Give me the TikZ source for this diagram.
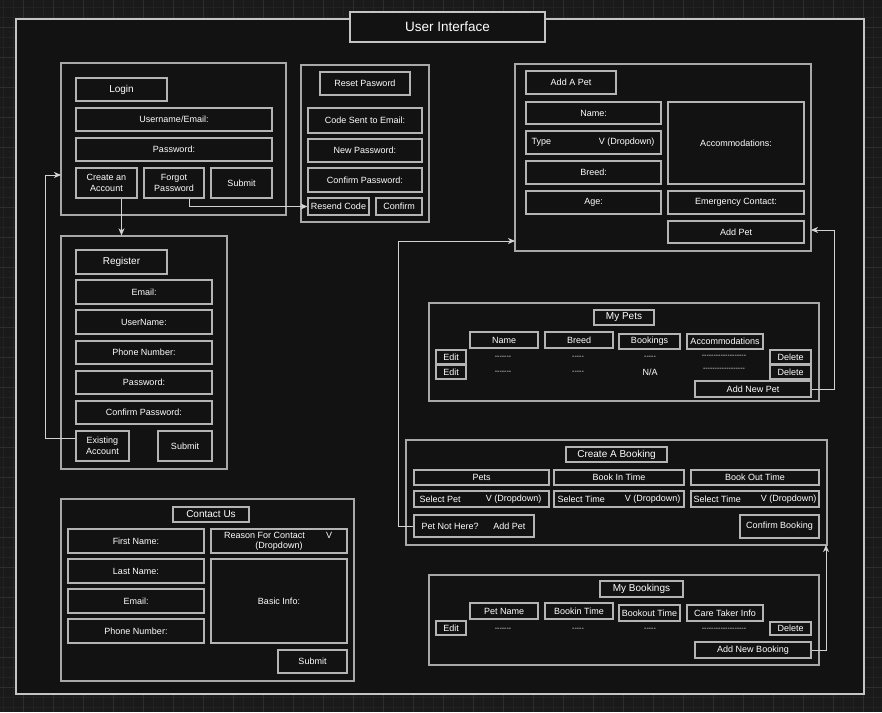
\documentclass[tikz,border=0pt]{standalone}
\usepackage{fontspec}
\setmainfont{Liberation Sans}
\usetikzlibrary{arrows.meta}
\definecolor{bgin}{HTML}{121212}
\definecolor{bgout}{HTML}{1A1A1A}
\definecolor{gmin}{HTML}{222222}
\definecolor{gmaj}{HTML}{2E2E2E}
\definecolor{edgecol}{HTML}{B4B4B4}
\definecolor{panelcol}{HTML}{A8A8A8}
\definecolor{framecol}{HTML}{C4C4C4}
\definecolor{conncol}{HTML}{D2D2D2}
\newcommand\uibox[7][]{%
  \pgfmathsetmacro\uiW{#5-#3}\pgfmathsetmacro\uiH{#6-#4}%
  \node[box,#1,minimum width=\uiW pt,minimum height=\uiH pt] (#2) at ({(#3+#5)/2},{(#4+#6)/2}) {#7};}
\newcommand\hy[1]{\foreach\uk in {1,...,#1}{-{}}}
\tikzset{
  box/.style={draw=edgecol, line width=1.2pt, fill=bgin, text=white,
    font=\fontsize{9}{10.5}\selectfont, inner sep=1pt, align=center},
  panel/.style={draw=panelcol, line width=1.3pt},
  ttl/.style={font=\fontsize{10}{12}\selectfont},
  txt/.style={text=white, font=\fontsize{9}{10.5}\selectfont, inner sep=0pt},
  dashtxt/.style={text=white, font=\fontsize{7}{8}\selectfont, inner sep=0pt},
  conn/.style={draw=conncol, line width=0.9pt, -{Stealth[length=7pt,width=6pt,inset=2pt]}},
}
\begin{document}
\begin{tikzpicture}[x=1pt,y=-1pt]
\useasboundingbox (0,0) rectangle (882,712);
% outer background with grid
\fill[bgout] (0,0) rectangle (882,712);
\foreach \x in {3,13,...,882} \draw[gmin,line width=0.6pt] (\x,0) -- (\x,712);
\foreach \y in {7,17,...,712} \draw[gmin,line width=0.6pt] (0,\y) -- (882,\y);
\foreach \x in {23,53,...,882} \draw[gmaj,line width=0.8pt] (\x,0) -- (\x,712);
\foreach \y in {27,57,...,712} \draw[gmaj,line width=0.8pt] (0,\y) -- (882,\y);
% main frame
\draw[framecol, line width=1.5pt, fill=bgin] (16,19) rectangle (864,694);
\uibox[font=\fontsize{13.5}{16}\selectfont, draw=framecol, line width=1.3pt]{title}{350}{12}{545}{42}{User Interface}

% ---------- Login ----------
\uibox[panel]{loginp}{61}{63}{286}{215}{}
\uibox[ttl]{login}{76}{78}{167}{101}{Login}
\uibox{user}{76}{108}{272}{131}{Username/Email:}
\uibox{pw}{76}{138}{272}{161}{Password:}
\uibox{ca}{76}{168}{137}{198}{Create an\\Account}
\uibox{fp}{144}{168}{204}{198}{Forgot\\Password}
\uibox{lsub}{211}{168}{272}{198}{Submit}

% ---------- Reset ----------
\uibox[panel]{resetp}{301}{65}{429}{222}{}
\uibox{rp}{320}{72}{410}{95}{Reset Pasword}
\uibox{cse}{308}{108}{422}{133}{Code Sent to Email:}
\uibox{np}{308}{139}{422}{162}{New Password:}
\uibox{cp}{308}{168}{422}{192}{Confirm Password:}
\uibox{rc}{308}{198}{369}{215}{Resend Code}
\uibox{conf}{376}{198}{422}{215}{Confirm}

% ---------- Register ----------
\uibox[panel]{regp}{61}{236}{227}{469}{}
\uibox[ttl]{reg}{76}{250}{167}{274}{Register}
\uibox{remail}{76}{280}{212}{304}{Email:}
\uibox{runame}{76}{310}{212}{334}{UserName:}
\uibox{rphone}{76}{341}{212}{364}{Phone Number:}
\uibox{rpw}{76}{371}{212}{394}{Password:}
\uibox{rcpw}{76}{401}{212}{424}{Confirm Password:}
\uibox{ea}{76}{431}{129}{461}{Existing\\Account}
\uibox{rsub}{158}{431}{212}{461}{Submit}

% ---------- Add A Pet ----------
\uibox[panel]{addp}{515}{64}{811}{251}{}
\uibox{aap}{526}{71}{616}{94}{Add A Pet}
\uibox{pname}{526}{102}{661}{124}{Name:}
\uibox{ptype}{526}{131}{661}{154}{}
\node[txt,anchor=west] (ptypeL) at ([xshift=6pt]ptype.west) {Type};
\node[txt,anchor=east] (ptypeR) at ([xshift=-7pt]ptype.east) {V (Dropdown)};
\uibox{pbreed}{526}{161}{661}{184}{Breed:}
\uibox{page}{526}{191}{661}{214}{Age:}
\uibox{pacc}{668}{102}{804}{184}{Accommodations:}
\uibox{pemer}{668}{191}{804}{214}{Emergency Contact:}
\uibox{paddbtn}{668}{221}{804}{243}{Add Pet}

% ---------- My Pets ----------
\uibox[panel]{mypp}{429}{303}{819}{401}{}
\uibox[ttl]{mypets}{594}{310}{654}{325}{My Pets}
\uibox{hname}{470}{332}{538}{348}{Name}
\uibox{hbreed}{545}{332}{613}{348}{Breed}
\uibox{hbook}{619}{334}{680}{349}{Bookings}
\uibox{hacc}{687}{334}{763}{349}{Accommodations}
\uibox{edit1}{436}{350}{466}{364}{Edit}
\uibox{edit2}{436}{365}{466}{379}{Edit}
\uibox{del1}{770}{350}{811}{364}{Delete}
\uibox{del2}{770}{365}{811}{379}{Delete}
\uibox{anp}{695}{381}{811}{397}{Add New Pet}
\node[dashtxt] (r1a) at (503,357) {\hy{7}};
\node[dashtxt] (r1b) at (578,357) {\hy{5}};
\node[dashtxt] (r1c) at (650,357) {\hy{5}};
\node[dashtxt] (r1d) at (724,356) {\hy{19}};
\node[dashtxt] (r2a) at (503,372) {\hy{7}};
\node[dashtxt] (r2b) at (578,372) {\hy{5}};
\node[txt] (r2c) at (650,372) {N/A};
\node[dashtxt] (r2d) at (724,369) {\hy{18}};

% ---------- Create A Booking ----------
\uibox[panel]{cbp}{406}{440}{827}{545}{}
\uibox[ttl]{cbt}{566}{447}{667}{462}{Create A Booking}
\uibox{cpets}{414}{470}{549}{485}{Pets}
\uibox{cin}{554}{470}{684}{485}{Book In Time}
\uibox{cout}{691}{470}{819}{485}{Book Out Time}
\uibox{spet}{414}{491}{549}{507}{}
\node[txt,anchor=west] (spetL) at ([xshift=6pt]spet.west) {Select Pet};
\node[txt,anchor=east] (spetR) at ([xshift=-8pt]spet.east) {V (Dropdown)};
\uibox{sin}{554}{491}{684}{507}{}
\node[txt,anchor=west] (sinL) at ([xshift=4pt]sin.west) {Select Time};
\node[txt,anchor=east] (sinR) at ([xshift=-4pt]sin.east) {V (Dropdown)};
\uibox{sout}{691}{491}{819}{507}{}
\node[txt,anchor=west] (soutL) at ([xshift=3pt]sout.west) {Select Time};
\node[txt,anchor=east] (soutR) at ([xshift=-3pt]sout.east) {V (Dropdown)};
\uibox{pnh}{414}{515}{534}{537}{}
\node[txt,anchor=west] (pnhL) at ([xshift=8pt]pnh.west) {Pet Not Here?};
\node[txt,anchor=east] (pnhR) at ([xshift=-9pt]pnh.east) {Add Pet};
\uibox{cbk}{740}{515}{819}{538}{Confirm Booking}

% ---------- My Bookings ----------
\uibox[panel]{mybp}{429}{575}{819}{665}{}
\uibox[ttl]{mybt}{600}{581}{683}{597}{My Bookings}
\uibox{bpn}{470}{603}{538}{619}{Pet Name}
\uibox{bbin}{545}{603}{613}{619}{Bookin Time}
\uibox{bbout}{619}{605}{680}{621}{Bookout Time}
\uibox{bct}{687}{605}{763}{621}{Care Taker Info}
\uibox{bedit}{436}{621}{466}{635}{Edit}
\uibox{bdel}{770}{622}{811}{635}{Delete}
\uibox{anb}{695}{642}{811}{658}{Add New Booking}
\node[dashtxt] (b1a) at (503,629) {\hy{7}};
\node[dashtxt] (b1b) at (578,629) {\hy{5}};
\node[dashtxt] (b1c) at (650,629) {\hy{5}};
\node[dashtxt] (b1d) at (724,629) {\hy{19}};

% ---------- Contact Us ----------
\uibox[panel]{conp}{61}{499}{354}{681}{}
\uibox[ttl]{cont}{173}{507}{249}{522}{Contact Us}
\uibox{cfn}{68}{529}{204}{553}{First Name:}
\uibox{cln}{68}{559}{204}{583}{Last Name:}
\uibox{cem}{68}{589}{204}{613}{Email:}
\uibox{cph}{68}{619}{204}{643}{Phone Number:}
\uibox{creason}{211}{529}{347}{553}{}
\node[txt] (creasonA) at (264.5,535) {Reason For Contact};
\node[txt] (creasonV) at (329,535) {V};
\node[txt] (creasonB) at (279,546.5) {(Dropdown)};
\uibox{cbasic}{211}{559}{347}{643}{Basic Info:}
\uibox{csub}{278}{650}{347}{673}{Submit}

% ---------- Connectors ----------
\coordinate (loginIn) at (61,175);
\coordinate (apIn) at (515,241);
\coordinate (apIn2) at (811,230);
\coordinate (cbIn) at (826,545);
\draw[conn] ([xshift=15pt]ca.south) -- ([xshift=15pt]ca.south |- regp.north);
\draw[conn] ([xshift=15pt]fp.south) |- (rc.west);
\draw[conn] ([yshift=8pt]ea.west) -- ++(-30,0) |- (loginIn);
\draw[conn] (pnh.west) -- ++(-15,0) |- (apIn);
\draw[conn] (anp.east) -- ++(23,0) |- (apIn2);
\draw[conn] (anb.east) -| (cbIn);
\end{tikzpicture}
\end{document}
